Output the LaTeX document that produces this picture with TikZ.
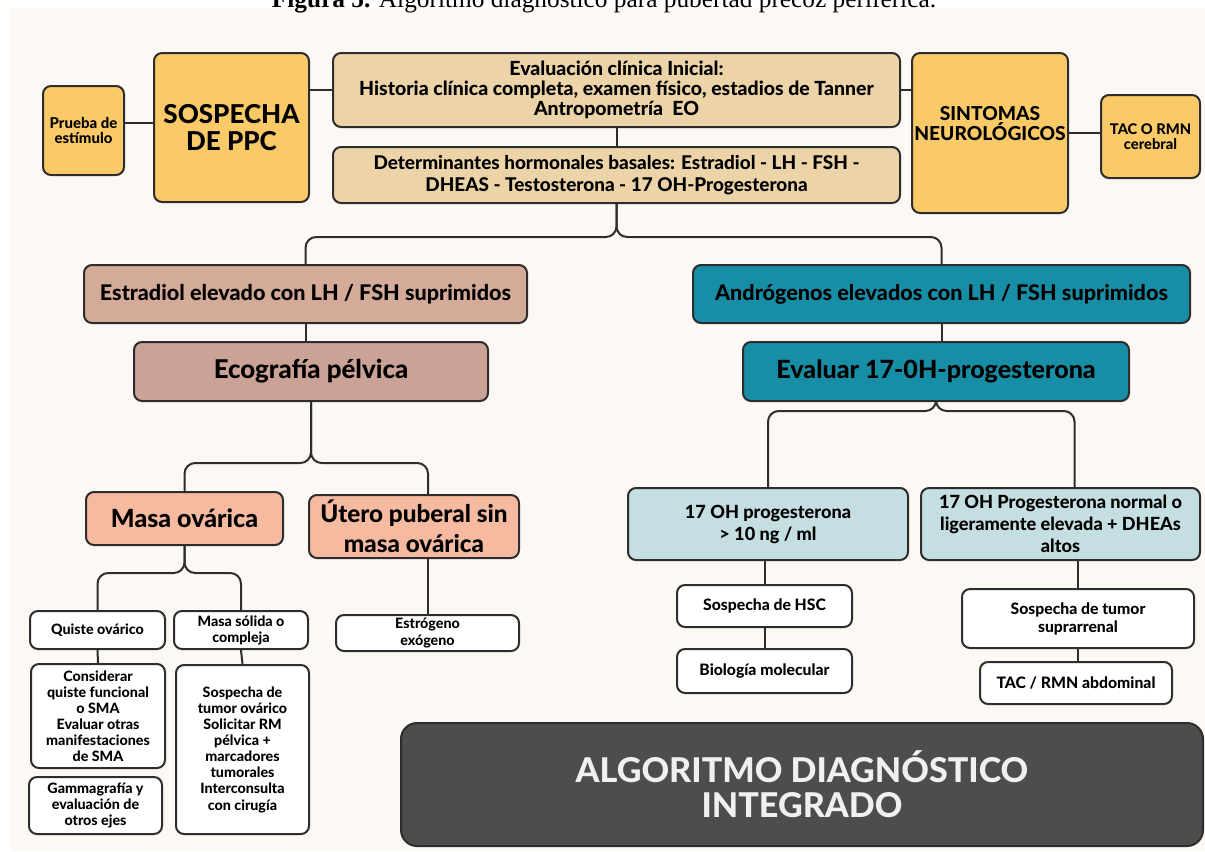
\documentclass[tikz,border=0pt]{standalone}
\usepackage{fontspec}
\setmainfont{Lato}[BoldFont={Lato Heavy}]
\newfontfamily\capfont{Liberation Serif}
\usetikzlibrary{calc}

\definecolor{cream}{RGB}{252,249,244}
\definecolor{yellowbox}{RGB}{250,201,104}
\definecolor{beigebox}{RGB}{236,212,168}
\definecolor{rosebox}{RGB}{212,170,153}
\definecolor{rosedark}{RGB}{203,162,150}
\definecolor{salmonbox}{RGB}{246,186,160}
\definecolor{tealbox}{RGB}{24,142,166}
\definecolor{icebox}{RGB}{197,222,225}
\definecolor{darkbox}{RGB}{77,77,77}
\definecolor{linec}{RGB}{45,45,45}

\tikzset{
  box/.style={draw=linec, line width=1.5pt, rounded corners=6pt, align=center,
    inner sep=0pt, text=black, font=\bfseries},
  sz/.style 2 args={minimum width=#1*0.75pt, minimum height=#2*0.75pt},
  fs/.style 2 args={font=\bfseries\fontsize{#1}{#2}\selectfont},
  link/.style={draw=linec, line width=1.5pt},
}

\begin{document}
\begin{tikzpicture}[x=0.75pt,y=-0.75pt]
\clip (0,0) rectangle (1205,851);
\useasboundingbox (0,0) rectangle (1205,851);
\fill[white] (0,0) rectangle (1205,851);
\fill[cream] (10,8) rectangle (1205,851);
\node[anchor=base, font=\capfont\fontsize{19}{22}\selectfont] (caption) at (604,7)
  {\textbf{Figura 5.} Algoritmo diagnóstico para pubertad precoz periférica.};

% top row
\node[box, fill=yellowbox, sz={81}{89}, fs={11.2}{11.8}] (prueba) at (83.5,130.5) {Prueba de\\estímulo};
\node[box, fill=yellowbox, sz={155}{149}, fs={19.5}{20.25}] (sospecha) at (231.5,127.5) {SOSPECHA\\DE PPC};
\node[box, fill=beigebox, sz={567}{74}, fs={14.6}{15.2}] (evalc) at (616.5,90)
  {Evaluación clínica Inicial:\\Historia clínica completa, examen físico, estadios de Tanner\\Antropometría\ \ EO};
\node[box, fill=beigebox, sz={567}{56}, fs={14.2}{16.5}] (hormon) at (616.5,175)
  {Determinantes hormonales basales: Estradiol - LH - FSH -\\DHEAS - Testosterona - 17 OH-Progesterona};
\node[box, fill=yellowbox, sz={156}{160}, fs={14.4}{14.6}] (sintomas) at (990,133) {SINTOMAS\\NEUROLÓGICOS\\\mbox{}};
\node[box, fill=yellowbox, sz={99}{83}, fs={11}{11.5}] (tacrmn) at (1150.5,136.5) {TAC O RMN\\cerebral};

\draw[link] ($(prueba.east)+(0,-7.5)$) -- ($(prueba.east -| sospecha.west)+(0,-7.5)$);
\draw[link] (evalc.west -| sospecha.east) -- (evalc.west);
\draw[link] (evalc.east) -- (evalc.east -| sintomas.west);
\draw[link] (sintomas.east) -- (sintomas.east -| tacrmn.west);
\draw[link] (evalc.south) -- (hormon.north);

% two branches
\node[box, fill=rosebox, sz={443}{58}, fs={16.2}{18}] (estrad) at (305.5,294) {Estradiol elevado con LH / FSH suprimidos};
\node[box, fill=rosedark, sz={354}{59}, fs={19.4}{20}] (ecogr) at (311,371.5) {Ecografía pélvica};
\node[box, fill=tealbox, sz={497}{58}, fs={16.2}{18}] (androg) at (941.5,294) {Andrógenos elevados con LH / FSH suprimidos};
\node[box, fill=tealbox, sz={386}{59}, fs={18.8}{20}] (evaloh) at (936,371.5) {Evaluar 17-0H-progesterona};

\coordinate (splittop) at (616.5,237);
\draw[link, rounded corners=8pt] (estrad.north) |- (splittop) -- (hormon.south);
\draw[link, rounded corners=8pt] (androg.north) |- (splittop) -- (hormon.south);
\draw[link] (estrad.south) -- (estrad.south |- ecogr.north);
\draw[link] (androg.south) -- (androg.south |- evaloh.north);

% left side
\node[box, fill=salmonbox, sz={197}{53}, fs={18.8}{20}] (masa) at (184.5,518.5) {Masa ovárica};
\node[box, fill=salmonbox, sz={210}{63}, fs={18.2}{22.5}] (utero) at (414,526.5) {Útero puberal sin\\masa ovárica};
\coordinate (splitecho) at (311,463);
\draw[link, rounded corners=8pt] (masa.north) |- (splitecho) -- (ecogr.south);
\draw[link, rounded corners=8pt] ($(utero.north)+(14,0)$) |- (splitecho) -- (ecogr.south);

\node[box, fill=white, sz={135}{38}, fs={10.7}{12}] (quiste) at (97.5,630) {Quiste ovárico};
\node[box, fill=white, sz={134}{38}, fs={10.7}{12}] (solida) at (241,630) {Masa sólida o\\compleja};
\node[box, fill=white, sz={183}{36}, fs={10.7}{12.5}] (estrog) at (427.5,633) {Estrógeno\\exógeno};
\coordinate (splitmasa) at (184.5,573);
\draw[link, rounded corners=8pt] (quiste.north) |- (splitmasa) -- (masa.south);
\draw[link, rounded corners=8pt] (solida.north) |- (splitmasa) -- (masa.south);
\draw[link] (utero.south -| estrog.north) -- (estrog.north);

\node[box, fill=white, sz={134}{104}, fs={10.7}{12}] (consid) at (98,716)
  {Considerar\\quiste funcional\\o SMA\\Evaluar otras\\manifestaciones\\de SMA};
\node[box, fill=white, sz={133}{57}, fs={10.7}{12.2}] (gamma) at (95.5,805.5)
  {Gammagrafía y\\evaluación de\\otros ejes};
\node[box, fill=white, sz={133}{169}, fs={10.7}{12.1}] (tumorov) at (242.5,749.5)
  {Sospecha de\\tumor ovárico\\Solicitar RM\\pélvica +\\marcadores\\tumorales\\Interconsulta\\con cirugía};
\draw[link] (quiste.south) -- (consid.north);
\draw[link] (solida.south) -- (tumorov.north);

% right side
\node[box, fill=icebox, sz={280}{72}, fs={13.6}{16.5}] (ohalto) at (768,524) {17 OH progesterona\\> 10 ng / ml};
\node[box, fill=icebox, sz={279}{72}, fs={13.6}{16.5}] (ohnorm) at (1060.5,524)
  {17 OH Progesterona normal o\\ligeramente elevada + DHEAs\\altos};
\coordinate (splitoh) at (936,411);
\draw[link, rounded corners=8pt] (ohalto.north) |- (splitoh) -- (evaloh.south);
\draw[link, rounded corners=8pt] ($(ohnorm.north)+(14,0)$) |- (splitoh) -- (evaloh.south);

\node[box, fill=white, sz={175}{42}, fs={11.8}{13.5}] (hsc) at (764.5,606) {Sospecha de HSC};
\node[box, fill=white, sz={175}{44}, fs={11.8}{13.5}] (biol) at (764.5,671) {Biología molecular};
\node[box, fill=white, sz={232}{59}, fs={11.8}{13.5}] (suprar) at (1078,618.5) {Sospecha de tumor\\suprarrenal};
\node[box, fill=white, sz={192}{42}, fs={11.8}{13.5}] (tacabd) at (1076,683) {TAC / RMN abdominal};
\draw[link] (ohalto.south -| hsc.north) -- (hsc.north);
\draw[link] (hsc.south) -- (biol.north);
\draw[link] (ohnorm.south -| suprar.north) -- (suprar.north);
\draw[link] (suprar.south) -- (suprar.south |- tacabd.north);

% title block
\node[box, fill=darkbox, text=white!94!black, rounded corners=12pt, sz={802}{123}, fs={25.6}{26.5}] (algor) at (802,784.5)
  {ALGORITMO DIAGNÓSTICO\\INTEGRADO};
\end{tikzpicture}
\end{document}
